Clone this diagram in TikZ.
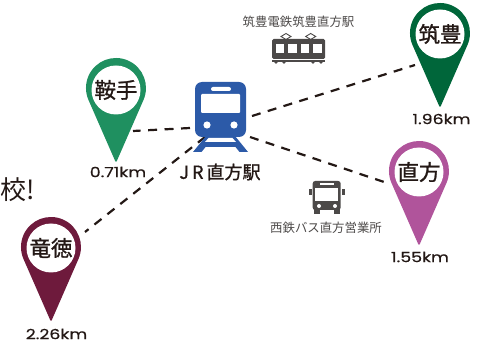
\documentclass[tikz,border=0pt]{standalone}
\usepackage{fontspec}
\setmainfont{Poppins}
\newfontfamily\jpfont{Noto Sans CJK JP}
\newfontfamily\jpmedium[FakeBold=1.1]{Noto Sans CJK JP}
\newfontfamily\kmfont[FakeStretch=1.24,FakeBold=0.5]{Poppins}
\usetikzlibrary{arrows.meta}
\usetikzlibrary{shapes, graphs}

\definecolor{inkcol}{HTML}{231815}
\definecolor{iconcol}{HTML}{4C4948}
\definecolor{traincol}{HTML}{2C5AA8}
\definecolor{col_chikuho}{HTML}{00663A}
\definecolor{col_kurate}{HTML}{1F9060}
\definecolor{col_nogata}{HTML}{B0549B}
\definecolor{col_ryutoku}{HTML}{6E1A3C}

\tikzset{
  pinlabel/.style={circle,fill=white,minimum size=49pt,inner sep=0pt,text=inkcol,
    font=\jpmedium\fontsize{21.5}{21.5}\selectfont},
  kmlabel/.style={inner sep=0pt,text=inkcol,font=\kmfont\fontsize{14}{14}\selectfont},
  placelabel/.style={inner sep=0pt,text=iconcol,font=\jpfont\fontsize{12.4}{12.4}\selectfont},
  link/.style={inkcol,line width=2.2pt,dash pattern=on 9pt off 7.5pt},
  pinbody/.pic={
    \path[pic actions,line width=1.5pt,line join=round]
      (26.7,11.9) arc (24:-204:29.25) -- (0,73) -- cycle;
  },
}

\begin{document}
\begin{tikzpicture}[x=1pt,y=-1pt]
\useasboundingbox (0,0) rectangle (487,347);
%% connector ends
\coordinate (train_w) at (190,128);
\coordinate (train_ne) at (252,116);
\coordinate (train_se) at (250,137);
\coordinate (train_sw) at (205,137);
\coordinate (end_kurate) at (133,131);
\coordinate (end_chikuho) at (415,65);
\coordinate (end_nogata) at (390,184);
\coordinate (end_ryutoku) at (85,232);
\draw [link] (train_w) -- (end_kurate);
\draw [link] (train_ne) -- (end_chikuho);
\draw [link] (train_se) -- (end_nogata);
\draw [link] (train_sw) -- (end_ryutoku);
%% pins
\path (440,33) pic [fill=col_chikuho,draw=col_chikuho] {pinbody};
\path (116,88) pic [fill=col_kurate,draw=col_kurate] {pinbody};
\path (419,171) pic [fill=col_nogata,draw=col_nogata] {pinbody};
\path (51,247) pic [fill=col_ryutoku,draw=col_ryutoku] {pinbody};
\node (pin_chikuho) at (440,34) [pinlabel] {筑豊};
\node (pin_kurate) at (116,90) [pinlabel] {鞍手};
\node (pin_nogata) at (419,172) [pinlabel] {直方};
\node (pin_ryutoku) at (51,248) [pinlabel] {竜徳};
\node (km_chikuho) at (441.5,119) [kmlabel] {1.96km};
\node (km_kurate) at (118,172) [kmlabel] {0.71km};
\node (km_nogata) at (420,257) [kmlabel] {1.55km};
\node (km_ryutoku) at (56.5,334) [kmlabel] {2.26km};
%% train
\fill [traincol,rounded corners=7pt] (195,82) rectangle (246,137);
\fill [traincol] (206,136) -- (193,152) -- (201.5,152) -- (205.5,147) -- (235.5,147)
  -- (239.5,152) -- (248,152) -- (235,136) -- cycle;
\fill [white] (208.5,138) -- (232.5,138) -- (236,142) -- (205,142) -- cycle;
\fill [white,rounded corners=1pt] (201,94) rectangle (240,113);
\fill [white,rounded corners=2pt] (211,87) rectangle (231,91);
\fill [white] (207,125) circle (3.6);
\fill [white] (234,125) circle (3.6);
\node (train_name) at (220,172) [inner sep=0pt,text=inkcol,font=\jpmedium\fontsize{18}{18}\selectfont] {J\,R\,直方駅};
%% tram
\fill [iconcol,rounded corners=1.5pt] (272,39) rectangle (325,59);
\fill [iconcol] (272,59.8) rectangle (325,62);
\foreach \wx in {276,284,313,321} \fill [iconcol] (\wx,62) circle (1.8);
\foreach \wx in {275.7,288.3,300.7,313.3} \fill [white] (\wx,44) rectangle +(8.4,8.7);
\foreach \px in {286,310.7} \draw [iconcol,line width=0.9pt] (\px-5,36.5) -- (\px,33.5) -- (\px+5,36.5) -- (\px,39.5) -- cycle;
\node (tram_name) at (298.5,22) [placelabel] {筑豊電鉄筑豊直方駅};
%% bus
\fill [iconcol,rounded corners=2.5pt] (312.7,181) rectangle (340.7,210);
\fill [iconcol] (309,188.7) rectangle (312,195.5);
\fill [iconcol] (341.5,188.7) rectangle (344.5,195.5);
\fill [iconcol] (314,209) rectangle (319.5,214);
\fill [iconcol] (334,209) rectangle (339.5,214);
\fill [white] (315,187.7) rectangle (338.4,201);
\fill [white] (320,183) rectangle (334,185);
\fill [white] (319,206) circle (2);
\fill [white] (335,206) circle (2);
\node (bus_name) at (326,228) [placelabel] {西鉄バス直方営業所};
%% cut off heading
\node (heading) at (35,190) [anchor=east,inner sep=0pt,text=inkcol,font=\jpfont\fontsize{26}{26}\selectfont] {校!};
%
\end{tikzpicture}
\end{document}
